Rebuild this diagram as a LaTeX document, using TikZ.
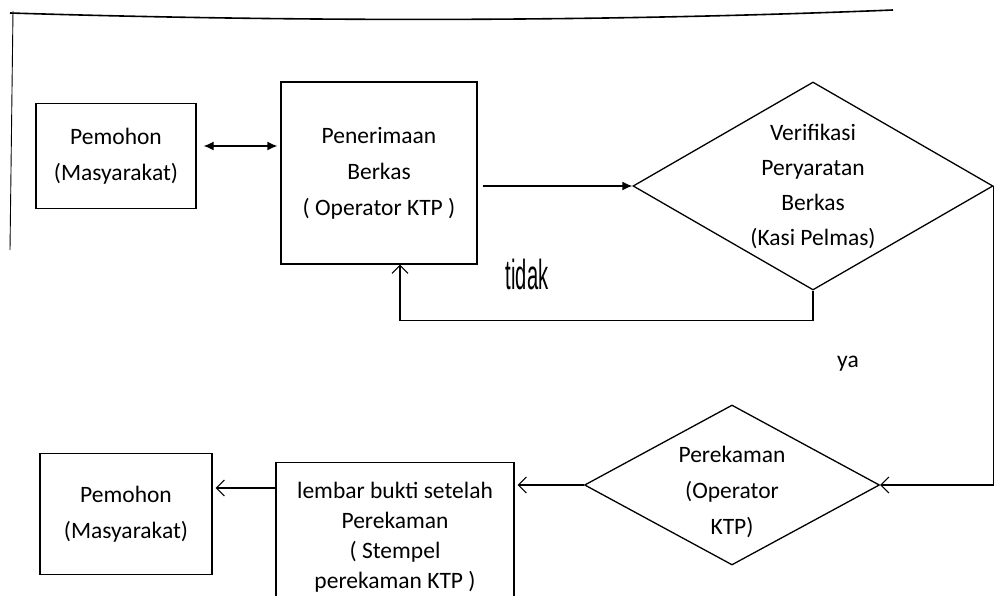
\documentclass[tikz,border=0pt]{standalone}
\usepackage{fontspec}
\setmainfont{Carlito}
\newfontfamily\narrowfont{Liberation Sans}
\usepackage{graphicx}
\usetikzlibrary{shapes.geometric,arrows.meta}

\begin{document}
\begin{tikzpicture}[x=1pt, y=-1pt, line width=1.3pt,
  box/.style={draw, align=center, inner sep=0pt},
  decision/.style={draw, diamond, inner sep=0pt},
  txt/.style={align=center, font=\fontsize{23.5}{36}\selectfont},
  fillarrow/.style={-{Latex[length=10pt,width=9pt]}},
  bothfill/.style={{Latex[length=10pt,width=9pt]}-{Latex[length=10pt,width=9pt]}},
  openarrow/.style={-{Straight Barb[length=8pt,width=16pt]}, line width=1.1pt}]
\clip (0,0) rectangle (998,596);

% Page frame of the scan
\draw[line width=1.6pt] (10,13) .. controls (300,22) and (600,22) .. (893,10);
\draw[line width=0.9pt] (13,11) -- (10,250);

% Upper row
\node[box, txt, minimum width=160pt, minimum height=105pt] (pm1) at (116,156) {Pemohon\\(Masyarakat)};
\node[box, txt, minimum width=196pt, minimum height=182pt] (pen) at (379,173) {Penerimaan\\Berkas\\( Operator KTP )};
\node[decision, minimum width=360pt, minimum height=208pt] (ver) at (813,186) {};
\node[txt, font=\fontsize{23.5}{35}\selectfont] (vertxt) at (ver) {Verifikasi\\Peryaratan\\Berkas\\(Kasi Pelmas)};

% Lower row
\node[decision, minimum width=295pt, minimum height=160pt] (rek) at (732,485) {};
\node[txt] (rektxt) at (732,492) {Perekaman\\(Operator\\KTP)};
\node[box, minimum width=238pt, minimum height=145pt] (lem) at (395,535) {};
\node[txt, font=\fontsize{23.5}{30}\selectfont] (lemtxt) at (395,537) {lembar bukti setelah\\Perekaman\\( Stempel\\perekaman KTP )};
\node[box, txt, minimum width=172pt, minimum height=121pt] (pm2) at (126,514) {Pemohon\\(Masyarakat)};

% Branch labels
\node[font=\narrowfont\fontsize{42}{48}\selectfont] (tidak) at (527,274) {\scalebox{0.48}[1]{tidak}};
\node[txt] (ya) at (848,364) {ya};

% Connectors
\draw[bothfill, shorten <=7pt, shorten >=3pt] ([yshift=10pt]pm1.east) -- ([yshift=10pt]pm1.east -| pen.west);
\draw[fillarrow, shorten <=5pt] (ver.west -| pen.east) -- (ver.west);
\draw[openarrow] (ver.south) -- ++(0,30) -| ([xshift=21pt]pen.south);
\draw[openarrow] (ver.east) |- (rek.east);
\draw[openarrow, shorten >=3pt] (rek.west) -- (rek.west -| lem.east);
\draw[openarrow, shorten >=3pt] ([yshift=26pt]pm2.east -| lem.west) -- ([yshift=26pt]pm2.east);
\end{tikzpicture}
\end{document}
